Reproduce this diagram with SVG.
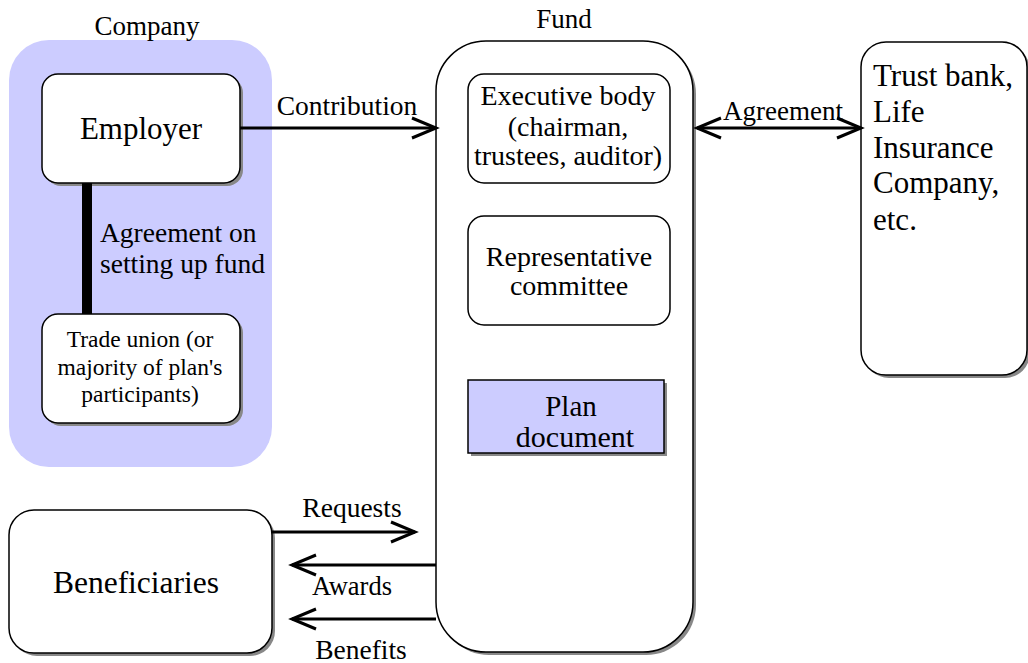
<svg xmlns="http://www.w3.org/2000/svg" width="1028" height="663" viewBox="0 0 1028 663" font-family="Liberation Serif">
<defs>
<marker id="open" markerWidth="30" markerHeight="24" refX="26" refY="12" orient="auto-start-reverse" markerUnits="userSpaceOnUse">
<path d="M2,2 L26,12 L2,22" fill="none" stroke="#000" stroke-width="3"/>
</marker>
</defs>
<rect width="1028" height="663" fill="#fff"/>

<g id="company">
<rect x="9" y="40" width="263" height="427" rx="40" fill="#ccccff"/>
<text x="147" y="35" font-size="27" text-anchor="middle">Company</text>
</g>

<g id="employer">
<rect x="45" y="77" width="198" height="109" rx="16" fill="#888"/>
<rect x="42" y="74" width="198" height="109" rx="16" fill="#fff" stroke="#000" stroke-width="1.5"/>
<text x="141" y="139" font-size="31" text-anchor="middle">Employer</text>
</g>

<g id="tradeunion">
<rect x="45" y="317" width="198" height="109" rx="16" fill="#888"/>
<rect x="42" y="314" width="198" height="109" rx="16" fill="#fff" stroke="#000" stroke-width="1.5"/>
<text x="140" y="347" font-size="23.5" text-anchor="middle">Trade union (or</text>
<text x="140" y="375" font-size="23.5" text-anchor="middle">majority of plan's</text>
<text x="140" y="402" font-size="23.5" text-anchor="middle">participants)</text>
</g>

<g id="fund">
<rect x="439" y="44" width="257" height="611" rx="50" fill="#888"/>
<rect x="436" y="41" width="257" height="611" rx="50" fill="#fff" stroke="#000" stroke-width="1.5"/>
<text x="564" y="28" font-size="27" text-anchor="middle">Fund</text>
</g>

<g id="executive">
<rect x="468" y="74" width="202" height="109" rx="16" fill="#fff" stroke="#000" stroke-width="1.5"/>
<text x="568" y="105" font-size="28" text-anchor="middle">Executive body</text>
<text x="568" y="136" font-size="28" text-anchor="middle">(chairman,</text>
<text x="568" y="165" font-size="28" text-anchor="middle">trustees, auditor)</text>
</g>

<g id="committee">
<rect x="468" y="216" width="202" height="109" rx="16" fill="#fff" stroke="#000" stroke-width="1.5"/>
<text x="569" y="266" font-size="28" text-anchor="middle">Representative</text>
<text x="569" y="295" font-size="28" text-anchor="middle">committee</text>
</g>

<g id="plan">
<rect x="471" y="383" width="196" height="73" fill="#888"/>
<rect x="468" y="380" width="196" height="73" fill="#ccccff" stroke="#000" stroke-width="1.5"/>
<text x="571" y="416" font-size="29" text-anchor="middle">Plan</text>
<text x="575" y="447" font-size="30" text-anchor="middle">document</text>
</g>

<g id="trustbank">
<rect x="864" y="45" width="166" height="333" rx="25" fill="#888"/>
<rect x="861" y="42" width="166" height="333" rx="25" fill="#fff" stroke="#000" stroke-width="1.5"/>
<text x="873" y="86" font-size="31">Trust bank,</text>
<text x="873" y="122" font-size="31">Life</text>
<text x="873" y="158" font-size="31">Insurance</text>
<text x="873" y="193" font-size="31">Company,</text>
<text x="873" y="230" font-size="31">etc.</text>
</g>

<g id="beneficiaries">
<rect x="12" y="513" width="263" height="143" rx="25" fill="#888"/>
<rect x="9" y="510" width="263" height="143" rx="25" fill="#fff" stroke="#000" stroke-width="1.5"/>
<text x="136" y="593" font-size="31.5" text-anchor="middle">Beneficiaries</text>
</g>

<g id="connectors">
<rect x="82" y="183" width="10" height="131" fill="#000"/>
<text x="100" y="242" font-size="27.5">Agreement on</text>
<text x="100" y="273" font-size="27.5">setting up fund</text>

<line x1="240" y1="128" x2="436" y2="128" stroke="#000" stroke-width="3" marker-end="url(#open)"/>
<text x="347" y="115" font-size="27.5" text-anchor="middle">Contribution</text>

<line x1="697" y1="128" x2="861" y2="128" stroke="#000" stroke-width="3" marker-start="url(#open)" marker-end="url(#open)"/>
<text x="783" y="120" font-size="27" text-anchor="middle">Agreement</text>

<line x1="272" y1="532" x2="415" y2="532" stroke="#000" stroke-width="3" marker-end="url(#open)"/>
<text x="352" y="517" font-size="27.5" text-anchor="middle">Requests</text>

<line x1="436" y1="565" x2="292" y2="565" stroke="#000" stroke-width="3" marker-end="url(#open)"/>
<text x="352" y="595" font-size="26.5" text-anchor="middle">Awards</text>

<line x1="436" y1="619" x2="292" y2="619" stroke="#000" stroke-width="3" marker-end="url(#open)"/>
<text x="361" y="659" font-size="27.5" text-anchor="middle">Benefits</text>
</g>
</svg>
